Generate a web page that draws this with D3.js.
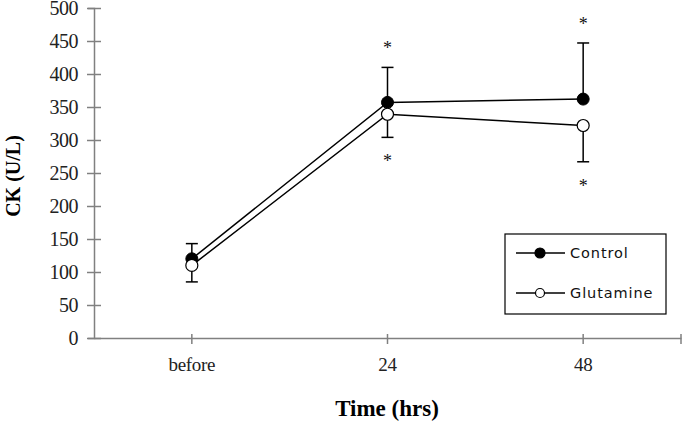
<!DOCTYPE html>
<html><head><meta charset="utf-8">
<script src="https://cdn.jsdelivr.net/npm/d3@7"></script>
<style>body{margin:0;background:#fff}</style>
</head><body>
<svg id="c" width="682" height="423"></svg>
<script>
const categories = ["before", "24", "48"];
const yTicks = [0,50,100,150,200,250,300,350,400,450,500];
const controlMean = [120, 357, 362];
const controlSD   = [23, 53, 85];
const glutMean    = [110, 339, 322];
const glutSD      = [25, 35, 55];
const sigControl  = [false, true, true];
const sigGlut     = [false, true, true];

const svg = d3.select("#c");
const L = 94, R = 681, T = 8, B = 338;
const x = d3.scaleBand().domain(categories).range([L, R]);
const cx = d => x(d) + x.bandwidth()/2;
const y = d3.scaleLinear().domain([0, 500]).range([B, T]);
const axisCol = "#808080";
const serif = "'Liberation Serif','Times New Roman',serif";

// y axis
const ya = svg.append("g").attr("transform", `translate(${L},0)`)
  .call(d3.axisLeft(y).tickValues(yTicks).tickSize(6).tickPadding(10));
ya.select(".domain").attr("stroke", axisCol).attr("stroke-width", 1.5);
ya.selectAll(".tick line").attr("stroke", axisCol).attr("stroke-width", 1.5).attr("x2", 7).attr("x1", -7);
ya.selectAll(".tick text").attr("font-family", serif).attr("font-size", 20).attr("fill", "#222").attr("x", -16).attr("letter-spacing", -0.5);

// x axis
const xa = svg.append("g").attr("transform", `translate(0,${B})`)
  .call(d3.axisBottom(x).tickSize(6).tickPadding(14).tickSizeOuter(0));
xa.select(".domain").attr("stroke", axisCol).attr("stroke-width", 1.5);
xa.selectAll(".tick line").attr("stroke", axisCol).attr("stroke-width", 1.5).attr("y1", -4).attr("y2", 6);
xa.selectAll(".tick text").attr("font-family", serif).attr("font-size", 19).attr("fill", "#222").attr("letter-spacing", -0.3);
xa.append("line").attr("x1", R).attr("x2", R).attr("y1", -4).attr("y2", 6).attr("stroke", axisCol).attr("stroke-width", 1.5);

// labels
svg.append("text").attr("transform", `translate(20,176) rotate(-90)`).attr("text-anchor", "middle")
  .attr("font-family", serif).attr("font-weight", "bold").attr("font-size", 20).text("CK (U/L)");
svg.append("text").attr("x", 387).attr("y", 416).attr("text-anchor", "middle")
  .attr("font-family", serif).attr("font-weight", "bold").attr("font-size", 23).text("Time (hrs)");

const line = d3.line().x((d,i) => cx(categories[i])).y(d => y(d));
function series(mean, sd, dir, sig) {
  const g = svg.append("g");
  mean.forEach((m, i) => {
    const xx = cx(categories[i]);
    const end = y(m + dir * sd[i]);
    g.append("line").attr("x1", xx).attr("x2", xx).attr("y1", y(m)).attr("y2", end).attr("stroke", "#000").attr("stroke-width", 1.5);
    g.append("line").attr("x1", xx-6).attr("x2", xx+6).attr("y1", end).attr("y2", end).attr("stroke", "#000").attr("stroke-width", 1.5);
    if (sig[i]) {
      g.append("text").attr("x", xx).attr("y", end + (dir > 0 ? -13 : 30)).attr("text-anchor", "middle")
        .attr("font-family", serif).attr("font-size", 18).attr("fill", "#111").text("*");
    }
  });
  return g;
}
series(controlMean, controlSD, 1, sigControl);
series(glutMean, glutSD, -1, sigGlut);
svg.append("path").datum(controlMean).attr("d", line).attr("fill", "none").attr("stroke", "#000").attr("stroke-width", 1.5);
svg.append("path").datum(glutMean).attr("d", line).attr("fill", "none").attr("stroke", "#000").attr("stroke-width", 1.5);
controlMean.forEach((m, i) => svg.append("circle").attr("cx", cx(categories[i])).attr("cy", y(m)).attr("r", 6).attr("fill", "#000").attr("stroke", "#000").attr("stroke-width", 1));
glutMean.forEach((m, i) => svg.append("circle").attr("cx", cx(categories[i])).attr("cy", y(m)).attr("r", 6).attr("fill", "#fff").attr("stroke", "#000").attr("stroke-width", 1.2));

// legend
const lg = svg.append("g");
lg.append("rect").attr("x", 505).attr("y", 234).attr("width", 161).attr("height", 80).attr("fill", "#fff").attr("stroke", "#000").attr("stroke-width", 1.2);
const items = [["Control", "#000"], ["Glutamine", "#fff"]];
items.forEach((it, i) => {
  const yy = 253 + i * 40;
  lg.append("line").attr("x1", 516).attr("x2", 565).attr("y1", yy).attr("y2", yy).attr("stroke", "#000").attr("stroke-width", 1.5);
  lg.append("circle").attr("cx", 540).attr("cy", yy).attr("r", i === 0 ? 5 : 4.5).attr("fill", it[1]).attr("stroke", "#000").attr("stroke-width", 1.2);
  lg.append("text").attr("x", 570).attr("y", yy + 5).attr("font-family", "'DejaVu Sans',Verdana,sans-serif").attr("font-size", 14.5).attr("letter-spacing", 0.9).attr("fill", "#111").text(it[0]);
});
</script>
</body></html>
